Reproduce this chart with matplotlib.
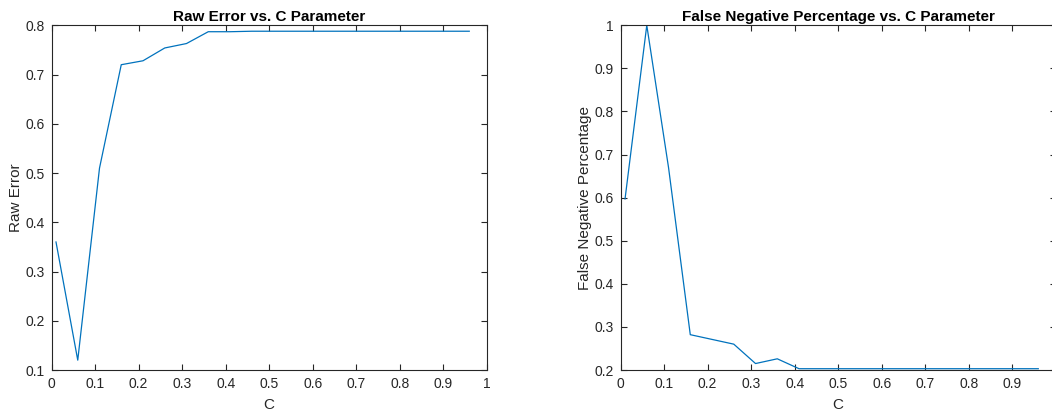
import matplotlib.pyplot as plt
import numpy as np

# C values tried
c_values = [0.01, 0.06, 0.11, 0.16, 0.21, 0.26, 0.31, 0.36, 0.41, 0.46,
            0.51, 0.56, 0.61, 0.66, 0.71, 0.76, 0.81, 0.86, 0.91, 0.96]
raw_error = [0.36, 0.12, 0.51, 0.72, 0.728, 0.754, 0.763, 0.787, 0.787, 0.788,
             0.788, 0.788, 0.788, 0.788, 0.788, 0.788, 0.788, 0.788, 0.788, 0.788]
false_neg = [0.597, 1.0, 0.67, 0.282, 0.271, 0.26, 0.215, 0.226, 0.203, 0.203,
             0.203, 0.203, 0.203, 0.203, 0.203, 0.203, 0.203, 0.203, 0.203, 0.203]

plt.rcParams['font.family'] = ['Liberation Sans', 'DejaVu Sans']
axis_gray = '#262626'
line_blue = '#0072BD'

fig = plt.figure(figsize=(10.52, 4.13), dpi=100)
ax1 = fig.add_axes([0.0491, 0.1041, 0.4135, 0.8346])
# right panel runs a little past the figure edge, as in the original
ax2 = fig.add_axes([0.590, 0.1041, 0.4135, 0.8346])


def style_axes(ax):
    for sp in ax.spines.values():
        sp.set_color(axis_gray)
        sp.set_linewidth(0.8)
    ax.tick_params(direction='in', top=True, right=True, length=4, width=0.8,
                   colors=axis_gray, labelsize=10, pad=5)


ax1.plot(c_values, raw_error, color=line_blue, linewidth=0.9)
ax1.set_xlim(0, 1)
ax1.set_ylim(0.1, 0.8)
ax1.set_xticks(np.arange(0, 1.01, 0.1))
ax1.set_xticklabels(['0', '0.1', '0.2', '0.3', '0.4', '0.5', '0.6', '0.7', '0.8', '0.9', '1'])
ax1.set_yticks(np.arange(0.1, 0.81, 0.1))
ax1.set_yticklabels(['0.1', '0.2', '0.3', '0.4', '0.5', '0.6', '0.7', '0.8'])
ax1.set_title('Raw Error vs. C Parameter', fontsize=11, fontweight='bold', pad=3)
ax1.set_xlabel('C', fontsize=11, color=axis_gray, labelpad=5)
ax1.set_ylabel('Raw Error', fontsize=11, color=axis_gray, labelpad=2)
style_axes(ax1)

ax2.plot(c_values, false_neg, color=line_blue, linewidth=0.9)
ax2.set_xlim(0, 1)
ax2.set_ylim(0.2, 1)
ax2.set_xticks(np.arange(0, 1.01, 0.1))
ax2.set_xticklabels(['0', '0.1', '0.2', '0.3', '0.4', '0.5', '0.6', '0.7', '0.8', '0.9', ''])
ax2.set_yticks(np.arange(0.2, 1.01, 0.1))
ax2.set_yticklabels(['0.2', '0.3', '0.4', '0.5', '0.6', '0.7', '0.8', '0.9', '1'])
ax2.set_title('False Negative Percentage vs. C Parameter', fontsize=11, fontweight='bold', pad=3)
ax2.set_xlabel('C', fontsize=11, color=axis_gray, labelpad=5)
ax2.set_ylabel('False Negative Percentage', fontsize=11, color=axis_gray, labelpad=2)
style_axes(ax2)

plt.savefig('out.png', dpi=100)
